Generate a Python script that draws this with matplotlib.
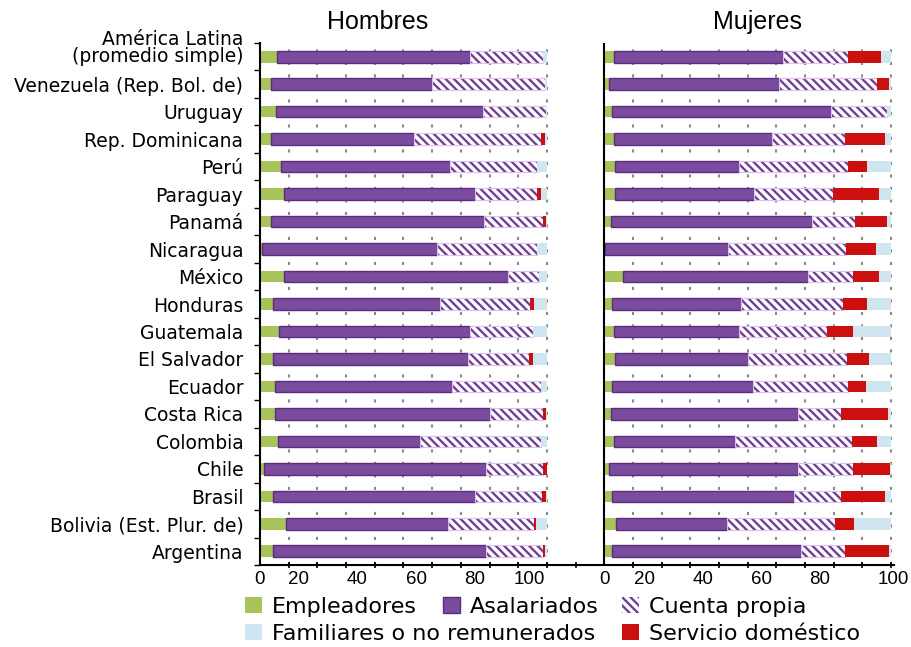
import numpy as np
import matplotlib
matplotlib.use('Agg')
import matplotlib.pyplot as plt
from matplotlib.patches import Patch
import matplotlib.transforms as mtransforms

plt.rcParams['hatch.linewidth'] = 1.7

countries = ["América Latina\n(promedio simple)", "Venezuela (Rep. Bol. de)", "Uruguay",
             "Rep. Dominicana", "Perú", "Paraguay", "Panamá", "Nicaragua", "México",
             "Honduras", "Guatemala", "El Salvador", "Ecuador", "Costa Rica", "Colombia",
             "Chile", "Brasil", "Bolivia (Est. Plur. de)", "Argentina"]

# Hombres
h_emp = [5.8, 3.8, 5.5, 3.7, 7.3, 8.2, 3.7, 0.8, 8.2, 4.7, 6.6, 4.7, 5.2, 5.2, 6.2, 1.5, 4.7, 9.1, 4.7]
h_asal = [67.4, 56.2, 72.4, 50.1, 58.8, 66.7, 74.4, 61.0, 78.3, 58.2, 66.6, 67.8, 61.8, 75.0, 49.7, 77.4, 70.1, 56.5, 74.2]
h_cta = [25.5, 39.4, 21.7, 44.1, 30.4, 21.6, 20.4, 34.7, 10.8, 31.2, 21.8, 21.1, 30.9, 18.5, 42.0, 19.8, 23.4, 30.0, 19.8]
h_serv = [0, 0, 0, 1.3, 0, 1.3, 1.2, 0, 0, 1.5, 0, 1.4, 0, 1.0, 0, 1.2, 1.4, 0.5, 0.5]
h_fam = [1.3, 0.6, 0.4, 0.7, 3.5, 2.2, 0.3, 3.5, 2.7, 4.4, 5.0, 5.0, 2.1, 0.3, 2.1, 0.1, 0.4, 4.0, 0.8]

# Mujeres
m_emp = [3.4, 1.6, 2.7, 3.3, 3.6, 3.6, 2.2, 0.3, 6.5, 2.7, 3.3, 3.6, 2.7, 2.2, 3.3, 1.5, 2.8, 4.2, 2.8]
m_asal = [58.8, 59.2, 76.3, 55.1, 43.5, 48.5, 70.1, 42.7, 64.4, 45.0, 43.8, 46.4, 49.0, 65.4, 42.3, 66.1, 63.2, 38.6, 65.7]
m_cta = [22.8, 34.4, 19.7, 25.6, 37.9, 27.8, 15.0, 41.2, 15.9, 35.6, 30.4, 34.6, 33.1, 14.9, 40.7, 19.2, 16.5, 37.7, 15.5]
m_serv = [11.6, 4.1, 0, 13.8, 6.5, 15.7, 11.4, 10.4, 8.8, 8.2, 9.3, 7.7, 6.4, 16.4, 8.6, 12.8, 15.4, 6.6, 15.2]
m_fam = [3.4, 0.7, 1.3, 2.2, 8.5, 4.4, 1.3, 5.4, 4.4, 8.5, 13.2, 7.7, 8.8, 1.1, 5.1, 0.4, 2.1, 12.9, 0.8]

panel_titles = ["Hombres", "Mujeres"]
tick_labels = ["0", "20", "40", "60", "80", "100"]
legend_labels = ["Empleadores", "Asalariados", "Cuenta propia",
                 "Familiares o no remunerados", "Servicio doméstico"]

GREEN = '#a8c35a'
PURPLE = '#7b4b9d'
PURPLE_EDGE = '#5b2c80'
HATCH = '#6e3f94'
HATCH_EDGE = '#dcc0ea'
LBLUE = '#cfe6f1'
RED = '#cc1010'
HATCH_PAT = '\\\\\\\\'

W, H = 912, 647
fig = plt.figure(figsize=(W / 100, H / 100), dpi=100)
ax = fig.add_axes([260 / W, 1 - 565 / H, (894 - 260) / W, (565 - 43) / H])

n = len(countries)
y = np.arange(n)[::-1]
bh = 0.42
OFFSET = 120

panels = [(0, h_emp, h_asal, h_cta, h_serv, h_fam),
          (OFFSET, m_emp, m_asal, m_cta, m_serv, m_fam)]
for off, emp, asal, cta, serv, fam in panels:
    emp, asal, cta, serv, fam = map(np.asarray, (emp, asal, cta, serv, fam))
    left = np.full(n, float(off))
    ax.barh(y, emp, left=left, height=bh, color=GREEN, lw=0, zorder=2)
    left = left + emp
    ax.barh(y, asal, left=left, height=bh, color=PURPLE, edgecolor=PURPLE_EDGE, lw=1.0, zorder=2)
    left = left + asal
    ax.barh(y, cta, left=left, height=bh, color='white', edgecolor=HATCH, hatch=HATCH_PAT, lw=0, zorder=2)
    ax.barh(y, cta, left=left, height=bh, fill=False, edgecolor=HATCH_EDGE, lw=0.8, zorder=2)
    left = left + cta
    ax.barh(y, serv, left=left, height=bh, color=RED, lw=0, zorder=2)
    left = left + serv
    ax.barh(y, fam, left=left, height=bh, color=LBLUE, lw=0, zorder=2)

for gx in list(range(10, 101, 10)) + list(range(OFFSET + 10, OFFSET + 101, 10)):
    ax.axvline(gx, color='#8a8a8a', lw=1.5, ls=(0, (1.5, 4.5)), zorder=0)
ax.axvline(OFFSET, color='black', lw=1.5, zorder=3)

ax.set_xlim(0, 221)
ax.set_ylim(-0.5, n - 0.5)

# x ticks
ax.set_xticks(np.arange(0, 221, 10), minor=True)
lab_pos = [0, 13.5, 34, 54.7, 74.7, 94] + [OFFSET + p for p in [0, 14, 34.4, 54.8, 75, 100.8]]
ax.set_xticks(lab_pos, labels=tick_labels + tick_labels)
ax.tick_params(axis='x', which='major', length=0, pad=4.5, labelsize=13.5)
ax.tick_params(axis='x', which='minor', direction='inout', length=5, width=1.2)
for t in ax.get_xticklabels():
    t.set_fontfamily('Liberation Sans')

# y ticks
ax.set_yticks(y, labels=countries)
ax.set_yticks(np.arange(-0.5, n, 1), minor=True)
ax.tick_params(axis='y', which='major', length=0, pad=12)
ax.tick_params(axis='y', which='minor', direction='out', length=4, width=1)
for t in ax.get_yticklabels():
    t.set_fontfamily('DejaVu Sans')
    t.set_fontsize(13.5)
    if '\n' in t.get_text():
        t.set_linespacing(0.85)
        t.set_transform(t.get_transform() + mtransforms.ScaledTranslation(0, 9.5 / 100, fig.dpi_scale_trans))

for s in ['top', 'right']:
    ax.spines[s].set_visible(False)
for s in ['left', 'bottom']:
    ax.spines[s].set_linewidth(1.5)

# titles
fig.text(378 / W, 1 - 22 / H, panel_titles[0], ha='center', va='center',
         fontsize=18, family='Liberation Sans')
fig.text(758 / W, 1 - 22 / H, panel_titles[1], ha='center', va='center',
         fontsize=18, family='Liberation Sans')

# legend
handles = [Patch(facecolor=GREEN, lw=0),
           Patch(facecolor=PURPLE, edgecolor=PURPLE_EDGE, lw=1),
           Patch(facecolor='white', edgecolor=HATCH, hatch=HATCH_PAT, lw=0),
           Patch(facecolor=LBLUE, lw=0),
           Patch(facecolor=RED, lw=0)]
positions = [(245, 607), (443, 607), (622, 607), (245, 634), (622, 634)]
for h, lab, (px, py) in zip(handles, legend_labels, positions):
    fig.legend(handles=[h], labels=[lab], loc='center left',
               bbox_to_anchor=(px / W, 1 - py / H), frameon=False,
               borderpad=0, borderaxespad=0, handlelength=0.75, handleheight=0.75,
               handletextpad=0.45, prop={'family': 'DejaVu Sans', 'size': 16})

fig.savefig('out.png', dpi=100)
